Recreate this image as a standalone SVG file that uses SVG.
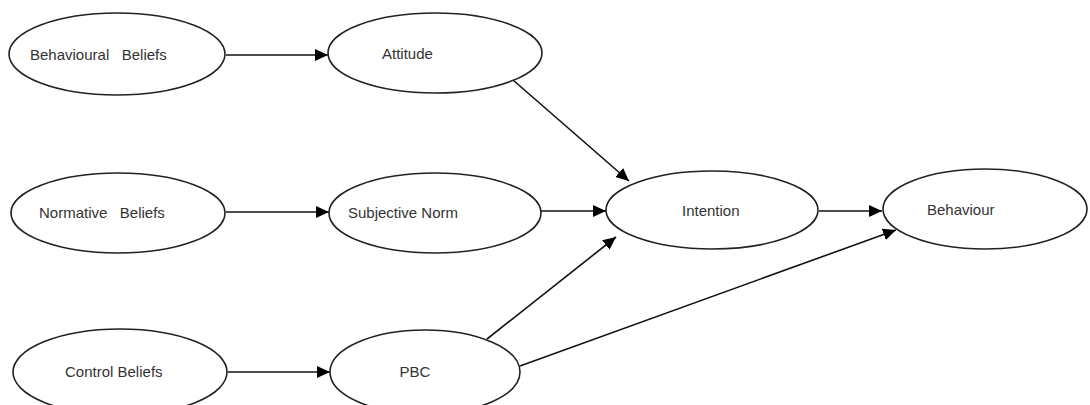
<svg xmlns="http://www.w3.org/2000/svg" width="1090" height="405" viewBox="0 0 1090 405">
  <style>
    .node ellipse { fill: #ffffff; stroke: #222222; stroke-width: 1.6; }
    .node text { font-family: "Liberation Sans", Arial, sans-serif; font-size: 15px; fill: #333333; white-space: pre; }
    .edges line { stroke: #111111; stroke-width: 1.6; marker-end: url(#arrow); }
  </style>
  <defs>
    <marker id="arrow" markerUnits="userSpaceOnUse" markerWidth="14" markerHeight="12" refX="13" refY="6" orient="auto">
      <path d="M0,0 L13,6 L0,12 Z" fill="#000000"/>
    </marker>
  </defs>
  <rect width="1090" height="405" fill="#ffffff"/>

  <g class="edges">
    <line x1="226" y1="55" x2="328" y2="55"/>
    <line x1="226" y1="212" x2="329" y2="212"/>
    <line x1="228" y1="372" x2="330" y2="372"/>
    <line x1="513" y1="80" x2="629" y2="181"/>
    <line x1="541" y1="211" x2="606" y2="211"/>
    <line x1="487" y1="339" x2="616" y2="237"/>
    <line x1="819" y1="211" x2="882" y2="211"/>
    <line x1="520" y1="366" x2="896" y2="230"/>
  </g>

  <g id="behavioural-beliefs" class="node">
    <ellipse cx="117" cy="54" rx="108" ry="41"/>
    <text x="30" y="60" xml:space="preserve">Behavioural   Beliefs</text>
  </g>
  <g id="attitude" class="node">
    <ellipse cx="435" cy="53" rx="107" ry="40"/>
    <text x="382" y="59">Attitude</text>
  </g>
  <g id="normative-beliefs" class="node">
    <ellipse cx="118" cy="213" rx="107" ry="40"/>
    <text x="39" y="218" xml:space="preserve">Normative   Beliefs</text>
  </g>
  <g id="subjective-norm" class="node">
    <ellipse cx="435" cy="213" rx="106" ry="40"/>
    <text x="348" y="218">Subjective Norm</text>
  </g>
  <g id="intention" class="node">
    <ellipse cx="712" cy="210" rx="106" ry="39"/>
    <text x="682" y="216">Intention</text>
  </g>
  <g id="behaviour" class="node">
    <ellipse cx="985" cy="209" rx="102" ry="40"/>
    <text x="927" y="215">Behaviour</text>
  </g>
  <g id="control-beliefs" class="node">
    <ellipse cx="120" cy="372" rx="107" ry="43"/>
    <text x="65" y="377">Control Beliefs</text>
  </g>
  <g id="pbc" class="node">
    <ellipse cx="425" cy="372" rx="95" ry="42"/>
    <text x="415" y="377" text-anchor="middle">PBC</text>
  </g>
</svg>
